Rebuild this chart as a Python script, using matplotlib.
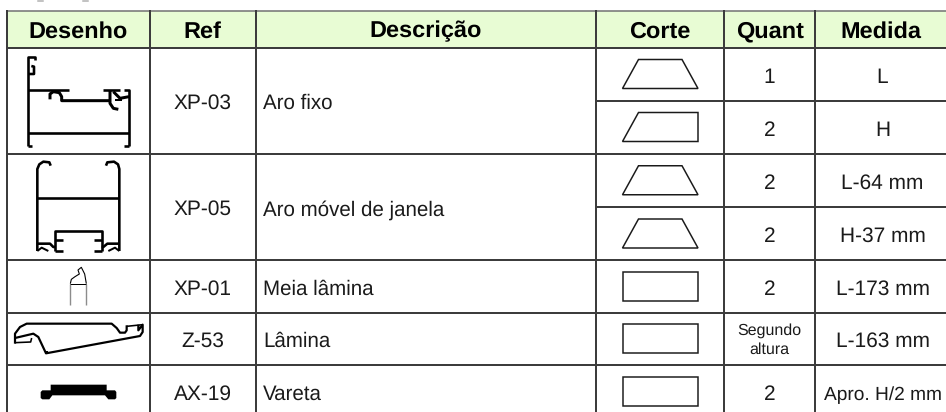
import matplotlib
matplotlib.use('Agg')
import matplotlib.pyplot as plt
from matplotlib.patches import Rectangle, Polygon

plt.rcParams['font.family'] = ['Liberation Sans', 'DejaVu Sans']
plt.rcParams['text.hinting'] = 'none'

# Table content
headers = ["Desenho", "Ref", "Descrição", "Corte", "Quant", "Medida"]
refs = ["XP-03", "XP-05", "XP-01", "Z-53", "AX-19"]
descriptions = ["Aro fixo", "Aro móvel de janela", "Meia lâmina", "Lâmina", "Vareta"]
profile_rows = [(0, 2), (2, 4), (4, 5), (5, 6), (6, 7)]
cuts = ["both", "left", "both", "both", "none", "none", "none"]
quantities = ["1", "2", "2", "2", "2", "Segundo\naltura", "2"]
measures = ["L", "H", "L-64 mm", "H-37 mm", "L-173 mm", "L-163 mm", "Apro. H/2 mm"]

# Grid layout, in pixels
col_x = [7, 150, 255.5, 596, 724, 815, 946]
row_y = [47.5, 100.5, 153.5, 207, 260, 312.5, 365, 418]
top_y = 10.5
line_color = '#3c3c3c'
header_color = '#e8fcd4'


def px(w):
    return w * 0.72


fig = plt.figure(figsize=(9.46, 4.12), dpi=100)
ax = fig.add_axes([0, 0, 1, 1])
ax.set_xlim(0, 946)
ax.set_ylim(412, 0)
ax.axis('off')


def path(points, ox, oy, lw=2.6, color='black'):
    xs = [ox + p[0] / 3 for p in points]
    ys = [oy + p[1] / 3 for p in points]
    ax.plot(xs, ys, color=color, lw=px(lw), solid_capstyle='butt', solid_joinstyle='round')


def draw_xp03():
    ox, oy = 20, 50
    path([(24, 288), (24, 20), (45, 20), (45, 30)], ox, oy)
    path([(34, 48), (42, 50), (42, 72), (26, 72)], ox, oy)
    path([(24, 120), (148, 120)], ox, oy)
    path([(90, 148), (90, 132), (100, 125), (118, 128), (125, 140), (125, 152), (270, 152)], ox, oy, lw=3)
    path([(248, 120), (300, 120)], ox, oy)
    path([(270, 122), (270, 160), (280, 175), (295, 178)], ox, oy, lw=3)
    path([(280, 125), (300, 145), (327, 140)], ox, oy, lw=3)
    path([(285, 150), (305, 150)], ox, oy, lw=2)
    path([(312, 120), (327, 120), (327, 288)], ox, oy)
    path([(24, 250), (327, 250)], ox, oy)
    path([(24, 288), (36, 288)], ox, oy)
    path([(327, 288), (312, 288)], ox, oy)


def draw_xp05():
    ox, oy = 20, 155
    path([(92, 32), (88, 22), (70, 20), (58, 28), (52, 42), (52, 288)], ox, oy)
    path([(258, 32), (262, 22), (282, 20), (294, 28), (298, 42), (298, 288)], ox, oy)
    path([(52, 130), (298, 130)], ox, oy)
    path([(105, 288), (105, 228), (245, 228), (245, 288)], ox, oy)
    path([(52, 266), (90, 266), (100, 276), (105, 276)], ox, oy)
    path([(298, 266), (262, 266), (250, 276), (245, 276)], ox, oy)
    path([(52, 288), (65, 278), (85, 288)], ox, oy, lw=2)
    path([(298, 288), (285, 278), (265, 288)], ox, oy, lw=2)
    path([(105, 256), (128, 256)], ox, oy)
    path([(245, 256), (222, 256)], ox, oy)
    path([(105, 288), (128, 288)], ox, oy)
    path([(245, 288), (222, 288)], ox, oy)


def draw_xp01():
    ox, oy = 10, 262
    path([(181, 128), (181, 65)], ox, oy, lw=1.4, color='#8c8c8c')
    path([(229, 128), (229, 65)], ox, oy, lw=1.4, color='#8c8c8c')
    path([(181, 65), (229, 65)], ox, oy, lw=1)
    path([(181, 65), (184, 52), (195, 44), (208, 36), (204, 24), (214, 16), (224, 36), (229, 65)], ox, oy, lw=1.1)


def draw_z53():
    ox, oy = 10, 262
    path([(15, 245), (15, 215), (30, 195), (50, 185), (305, 185), (320, 198), (330, 212), (345, 212),
          (350, 205), (350, 190)], ox, oy, lw=2.2)
    path([(350, 193), (398, 188)], ox, oy, lw=1.6)
    path([(385, 188), (385, 205), (398, 188), (398, 210), (390, 222), (108, 274), (85, 225), (70, 215),
          (15, 228)], ox, oy, lw=2.2)
    path([(15, 242), (62, 240), (65, 228)], ox, oy, lw=1.6)
    ax.add_patch(Rectangle((10 + 104 / 3, 262 + 268 / 3), 3, 3, color='black', lw=0))


def draw_ax19():
    ox, oy = 10, 262
    pts = [(122, 368), (290, 368), (290, 385), (315, 385), (319, 390), (319, 408), (315, 412), (295, 412),
           (285, 400), (127, 400), (118, 412), (97, 412), (92, 408), (92, 390), (97, 385), (122, 385)]
    ax.add_patch(Polygon([(ox + p[0] / 3, oy + p[1] / 3) for p in pts], closed=True, color='black', lw=0))


def draw_cut(kind, yc):
    left, right = 622.5, 698
    top, bottom = yc - 14.5, yc + 14.5
    tl = left + 16 if kind in ("both", "left") else left
    tr = right - 16 if kind == "both" else right
    ax.add_patch(Polygon([(left, bottom), (tl, top), (tr, top), (right, bottom)], closed=True,
                         fc='white', ec='#1a1a1a', lw=px(1.5)))


# Header band and grid
ax.add_patch(Rectangle((col_x[0], top_y), 946 - col_x[0], row_y[0] - top_y, fc=header_color, lw=0))
ax.plot([col_x[0], 946], [top_y, top_y], color='#777777', lw=px(1.6))
ax.plot([col_x[0], 946], [row_y[0], row_y[0]], color=line_color, lw=px(2))
for x in col_x[:-1]:
    ax.plot([x, x], [top_y, 412], color=line_color, lw=px(2))
for i, y in enumerate(row_y[1:-1], start=1):
    x0 = col_x[3] if i in (1, 3) else col_x[0]
    ax.plot([x0, 946], [y, y], color=line_color, lw=px(2))

# Cropped caption above the table
for x in (38, 83):
    ax.plot([x, x + 5], [0.5, 0.5], color='#b0b0b0', lw=px(1.5))

# Header text
for i, name in enumerate(headers):
    ax.text((col_x[i] + col_x[i + 1]) / 2, 37.5, name, ha='center', va='baseline',
            fontsize=16.9, fontweight='bold', color='black')

# Profile rows
for (r0, r1), ref, desc in zip(profile_rows, refs, descriptions):
    yb = (row_y[r0] + row_y[r1]) / 2 + 8.5
    if r1 == 7:
        yb = 400
    ax.text(202.5, yb, ref, ha='center', va='baseline', fontsize=15, color='#1a1a1a')
    ax.text(263, yb, desc, ha='left', va='baseline', fontsize=14.8, color='#1a1a1a')

draw_xp03()
draw_xp05()
draw_xp01()
draw_z53()
draw_ax19()

# Cut rows
for i, (kind, qty, med) in enumerate(zip(cuts, quantities, measures)):
    yc = (row_y[i] + row_y[i + 1]) / 2
    if i == 6:
        yc = 391.5
    draw_cut(kind, yc)
    if '\n' in qty:
        first, second = qty.split('\n')
        ax.text(769.5, yc - 4.5, first, ha='center', va='baseline', fontsize=11.5, color='#1a1a1a')
        ax.text(769.5, yc + 15, second, ha='center', va='baseline', fontsize=11.5, color='#1a1a1a')
    else:
        ax.text(769.5, yc + 8.5, qty, ha='center', va='baseline', fontsize=15, color='#1a1a1a')
    med_size = 13.8 if len(med) > 10 else 15
    ax.text(882.5, yc + 8.5, med, ha='center', va='baseline', fontsize=med_size, color='#1a1a1a')

fig.savefig('out.png', dpi=100)
